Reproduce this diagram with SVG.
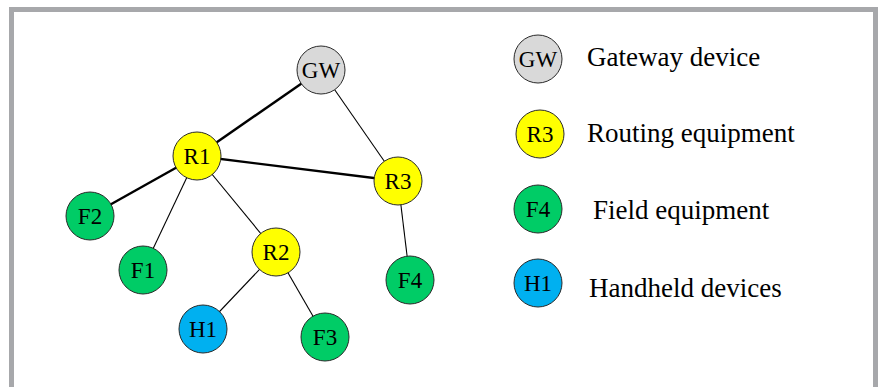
<svg xmlns="http://www.w3.org/2000/svg" width="881" height="387" viewBox="0 0 881 387">
  <style>
    .frame { fill: #ffffff; stroke: #a7a8ab; stroke-width: 5; }
    .node { stroke: #2a2a2a; stroke-width: 1; }
    .gw { fill: #d9d9d9; }
    .r { fill: #ffff00; }
    .f { fill: #00cc66; }
    .h { fill: #00b0f0; }
    .lbl { font-family: "Liberation Serif", "Times New Roman", serif; font-size: 23px; fill: #000; text-anchor: middle; }
    .legend { font-family: "Liberation Serif", "Times New Roman", serif; font-size: 27px; fill: #000; }
    .edge { stroke: #000; fill: none; }
    .thin { stroke-width: 1.1; }
    .thick { stroke-width: 2.4; }
  </style>

  <rect width="881" height="387" fill="#ffffff"/>
  <rect class="frame" x="11.5" y="9.5" width="864" height="400"/>

  <g id="connectors">
    <line class="edge thick" x1="321" y1="70" x2="197" y2="156"/>
    <line class="edge thin" x1="321" y1="70" x2="398" y2="181"/>
    <line class="edge thick" x1="197" y1="156" x2="398" y2="181"/>
    <line class="edge thick" x1="197" y1="156" x2="90" y2="216"/>
    <line class="edge thin" x1="197" y1="156" x2="143" y2="270"/>
    <line class="edge thin" x1="197" y1="156" x2="276" y2="252"/>
    <line class="edge thin" x1="276" y1="252" x2="203" y2="329"/>
    <line class="edge thin" x1="276" y1="252" x2="325" y2="337"/>
    <line class="edge thin" x1="398" y1="181" x2="410" y2="280"/>
  </g>

  <g id="GW"><circle class="node gw" cx="321" cy="70" r="24"/><text class="lbl" x="321" y="78">GW</text></g>
  <g id="R1"><circle class="node r" cx="197" cy="156" r="24"/><text class="lbl" x="197" y="164">R1</text></g>
  <g id="R3"><circle class="node r" cx="398" cy="181" r="24"/><text class="lbl" x="398" y="189">R3</text></g>
  <g id="F2"><circle class="node f" cx="90" cy="216" r="24"/><text class="lbl" x="90" y="224">F2</text></g>
  <g id="F1"><circle class="node f" cx="143" cy="270" r="24"/><text class="lbl" x="143" y="278">F1</text></g>
  <g id="R2"><circle class="node r" cx="276" cy="252" r="24"/><text class="lbl" x="276" y="260">R2</text></g>
  <g id="F4"><circle class="node f" cx="410" cy="280" r="24"/><text class="lbl" x="410" y="288">F4</text></g>
  <g id="H1"><circle class="node h" cx="203" cy="329" r="24"/><text class="lbl" x="203" y="337">H1</text></g>
  <g id="F3"><circle class="node f" cx="325" cy="337" r="24"/><text class="lbl" x="325" y="345">F3</text></g>

  <g id="legend">
    <g id="legend-gw"><circle class="node gw" cx="538" cy="59" r="24"/><text class="lbl" x="538" y="67">GW</text><text class="legend" x="587" y="66">Gateway device</text></g>
    <g id="legend-r"><circle class="node r" cx="540" cy="134" r="24"/><text class="lbl" x="540" y="142">R3</text><text class="legend" x="587" y="142">Routing equipment</text></g>
    <g id="legend-f"><circle class="node f" cx="538" cy="209" r="24"/><text class="lbl" x="538" y="217">F4</text><text class="legend" x="593" y="219">Field equipment</text></g>
    <g id="legend-h"><circle class="node h" cx="538" cy="283" r="24"/><text class="lbl" x="538" y="291">H1</text><text class="legend" x="589" y="297">Handheld devices</text></g>
  </g>
</svg>
